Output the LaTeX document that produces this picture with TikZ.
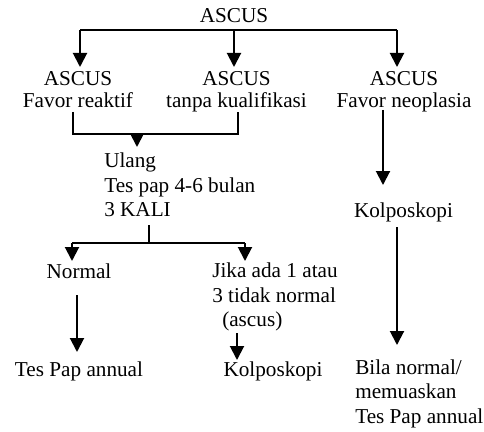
\documentclass[tikz,border=0pt]{standalone}
\usepackage{fontspec}
\setmainfont{Liberation Serif}
\usetikzlibrary{arrows.meta}
\begin{document}
\begin{tikzpicture}[x=0.75pt,y=-0.75pt,
  txt/.style={inner sep=0pt,font=\fontsize{15.9}{18.2}\selectfont},
  tight/.style={font=\fontsize{15.9}{16.7}\selectfont},
  ctr/.style={txt,anchor=base,align=center},
  lft/.style={txt,anchor=base west,align=left},
  link/.style={line width=1.5pt},
  arr/.style={line width=1.5pt,-{Triangle[width=10.5pt,length=10.5pt]}}]
\useasboundingbox (0,0) rectangle (484,431);
% text blocks (positions give the baseline of the last line)
\node[ctr] (root) at (234,23) {ASCUS};
\node[ctr,tight] (rea) at (78,108) {ASCUS\\Favor reaktif};
\node[ctr,tight] (tkq) at (236.5,108) {ASCUS\\tanpa kualifikasi};
\node[ctr,tight] (neo) at (404,108) {ASCUS\\Favor neoplasia};
\node[lft] (ulang) at (104,216.5) {Ulang\\Tes pap 4-6 bulan\\3 KALI};
\node[ctr] (kolR) at (403.5,217) {Kolposkopi};
\node[ctr] (norm) at (79,278) {Normal};
\node[lft] (jika) at (212,326.5) {Jika ada 1 atau\\3 tidak normal\\\hspace*{7.5pt}(ascus)};
\node[ctr] (tpa) at (79,376) {Tes Pap annual};
\node[ctr] (kolM) at (273,376) {Kolposkopi};
\node[lft] (bila) at (355,423) {Bila normal/\\memuaskan\\Tes Pap annual};
% junction points
\coordinate (t1) at (80,30);
\coordinate (t2) at (234,30);
\coordinate (t3) at (397,30);
\coordinate (a1) at (73,112);
\coordinate (a2) at (238,112);
\coordinate (j1) at (73,134);
\coordinate (j2) at (238,134);
\coordinate (jm) at (137,134);
\coordinate (u0) at (149,225);
\coordinate (u1) at (149,243);
\coordinate (ul) at (72,243);
\coordinate (ur) at (245,243);
\coordinate (n0) at (77,295);
\coordinate (s0) at (237,333);
\coordinate (r0) at (383,110);
\coordinate (k0) at (397,227);
% top split
\draw[link] (t1) -- (t3);
\draw[arr] (t1) -- (80,67);
\draw[arr] (t2) -- (234,67);
\draw[arr] (t3) -- (397,67);
% merge into repeat test
\draw[link] (a1) -- (j1) -- (j2) -- (a2);
\draw[arr] (jm) -- (137,147);
% split after repeat test
\draw[link] (u0) -- (u1);
\draw[link] (ul) -- (ur);
\draw[arr] (ul) -- (72,261);
\draw[arr] (ur) -- (245,261);
% lower arrows
\draw[arr] (n0) -- (77,352);
\draw[arr] (s0) -- (237,360);
% neoplasia branch
\draw[arr] (r0) -- (383,185);
\draw[arr] (k0) -- (397,345);
\end{tikzpicture}
\end{document}
